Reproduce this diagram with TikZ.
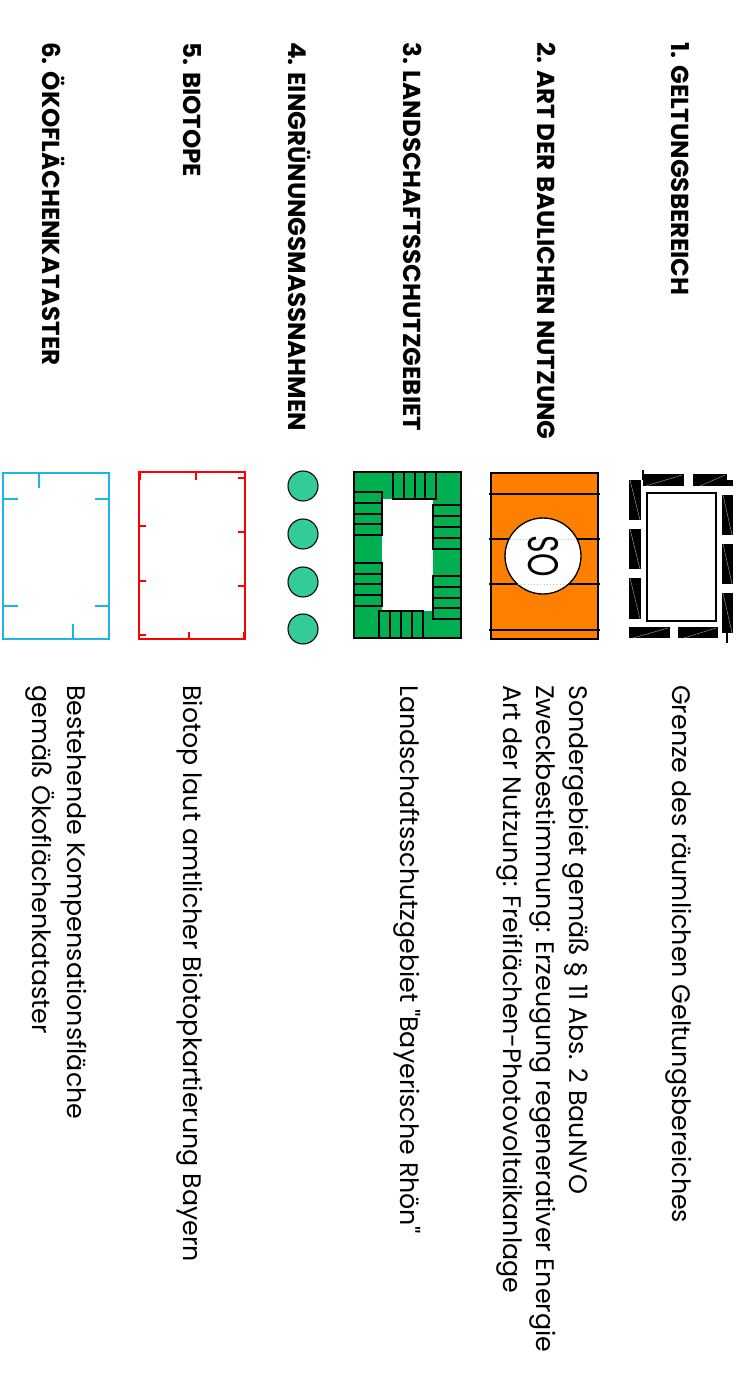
\documentclass[tikz,border=0pt]{standalone}
\usepackage{fontspec}
\setmainfont{Poppins}
\definecolor{soorange}{RGB}{255,128,0}
\definecolor{lsggreen}{RGB}{0,176,80}
\definecolor{eingruen}{RGB}{51,204,153}
\definecolor{biotopred}{RGB}{255,0,0}
\definecolor{oekoblue}{RGB}{30,180,230}
\tikzset{
  head/.style={rotate=-90,anchor=base west,inner sep=0pt,font=\bfseries\fontsize{18.4}{22}\selectfont},
  desc/.style={rotate=-90,anchor=base west,inner sep=0pt,font=\fontsize{19}{22}\selectfont},
  lsgbox/.style={draw=black,line width=1.2pt,fill=lsggreen},
  tick/.style={line width=2pt},
}

\begin{document}
\begin{tikzpicture}[x=0.75pt,y=-0.75pt]
   \useasboundingbox[fill=white] (0,0) rectangle (745,1388);

   \node[head] (h1) at (671,42) {1. GELTUNGSBEREICH};
   \node[head] (h2) at (537,42) {2. ART DER BAULICHEN NUTZUNG};
   \node[head] (h3) at (403,42) {3. LANDSCHAFTSSCHUTZGEBIET};
   \node[head] (h4) at (288,42) {4. EINGRÜNUNGSMASSNAHMEN};
   \node[head] (h5) at (183,42) {5. BIOTOPE};
   \node[head] (h6) at (42,42) {6. ÖKOFLÄCHENKATASTER};

   \node[desc] (d1) at (672,685) {Grenze des räumlichen Geltungsbereiches};
   \node[desc] (d2a) at (569,685) {Sondergebiet gemäß § 11 Abs. 2 BauNVO};
   \node[desc] (d2b) at (536,685) {Zweckbestimmung: Erzeugung regenerativer Energie};
   \node[desc] (d2c) at (503,685) {Art der Nutzung: Freiflächen-Photovoltaikanlage};
   \node[desc] (d3) at (400,685) {Landschaftsschutzgebiet \textquotedbl Bayerische Rhön\textquotedbl};
   \node[desc] (d5) at (183,685) {Biotop laut amtlicher Biotopkartierung Bayern};
   \node[desc] (d6a) at (67,685) {Bestehende Kompensationsfläche};
   \node[desc] (d6b) at (32,685) {gemäß Ökoflächenkataster};

   % 1
   \draw[line width=1.2pt,fill=white] (647,493) rectangle (716,621);
   \fill (643,474) rectangle (684,486);
   \fill (693,474) rectangle (727,486);
   \fill (727,480) rectangle (733,486);
   \fill (629,627) rectangle (670,638);
   \fill (678,627) rectangle (718,638);
   \foreach \a/\b in {480/520,529/569,578/619}
      \fill (629,\a) rectangle (641,\b);
   \foreach \a/\b in {495/535,544/584,593/633}
      \fill (722,\a) rectangle (733,\b);
   \draw[line width=1pt] (643,470) -- (643,480);
   \draw[line width=1pt] (727,633) -- (727,643);
   \draw[gray!70,line width=0.3pt] (646,486) -- (682,475);
   \draw[gray!70,line width=0.3pt] (700,486) -- (725,475);
   \draw[gray!70,line width=0.3pt] (633,638) -- (668,628);
   \draw[gray!70,line width=0.3pt] (684,638) -- (716,628);
   \foreach \a/\b in {480/520,529/569,578/619}
      \draw[gray!70,line width=0.3pt] (630,\a) -- (640,\b);
   \foreach \a/\b in {495/535,544/584,593/633}
      \draw[gray!70,line width=0.3pt] (723,\a) -- (732,\b);

   % 2
   \fill[soorange] (491,473) rectangle (598,639);
   \draw[line width=0.8pt] (491,473) rectangle (598,639);
   \foreach \y in {494,539,584,630}
      \draw[line width=1pt] (489,\y) -- (600,\y);
   \draw[line width=1pt,fill=white] (543,556) circle (38);
   \draw[gray!50,dotted] (510,539) -- (576,539);
   \draw[gray!50,dotted] (518,584) -- (568,584);
   \node[rotate=-90,inner sep=0pt,font=\fontsize{32}{32}\selectfont] (so) at (543,556) {\scalebox{0.7}[1]{SO}};

   % 3
   \fill[lsggreen] (354,472) rectangle (461,638);
   \fill[white] (382,499) rectangle (433,611);
   \draw[line width=1pt] (354,472) rectangle (461,638);
   \foreach \x in {393,404,415,425}
      \draw[lsgbox] (\x,472) rectangle ++(11,27);
   \foreach \x in {379,390,401,412}
      \draw[lsgbox] (\x,611) rectangle ++(11,27);
   \foreach \y in {492,503,514,524,563,574,584,595}
      \draw[lsgbox] (354,\y) rectangle ++(28,11);
   \foreach \y in {505,516,527,538,576,587,598,608}
      \draw[lsgbox] (433,\y) rectangle ++(28,11);

   % 4
   \foreach \y in {486,534,582,629}
      \draw[line width=0.8pt,fill=eingruen] (303,\y) circle (15);

   % 5
   \draw[biotopred,line width=1.2pt] (139,472) rectangle (245,639);
   \draw[biotopred,tick] (140,472) -- (140,480);
   \draw[biotopred,tick] (196,472) -- (196,480);
   \draw[biotopred,tick] (245,478) -- (238,478);
   \draw[biotopred,tick] (139,526) -- (146,526);
   \draw[biotopred,tick] (139,581) -- (146,581);
   \draw[biotopred,tick] (245,532) -- (238,532);
   \draw[biotopred,tick] (245,586) -- (238,586);
   \draw[biotopred,tick] (139,635) -- (146,635);
   \draw[biotopred,tick] (189,639) -- (189,632);
   \draw[biotopred,tick] (244,639) -- (244,632);

   % 6
   \draw[oekoblue,line width=1.2pt] (3,473) rectangle (109,639);
   \draw[oekoblue,line width=1.2pt] (39,473) -- (39,488);
   \draw[oekoblue,line width=1.2pt] (3,499) -- (18,499);
   \draw[oekoblue,line width=1.2pt] (3,606) -- (18,606);
   \draw[oekoblue,line width=1.2pt] (109,499) -- (95,499);
   \draw[oekoblue,line width=1.2pt] (109,606) -- (95,606);
   \draw[oekoblue,line width=1.2pt] (73,639) -- (73,624);
\end{tikzpicture}
\end{document}
